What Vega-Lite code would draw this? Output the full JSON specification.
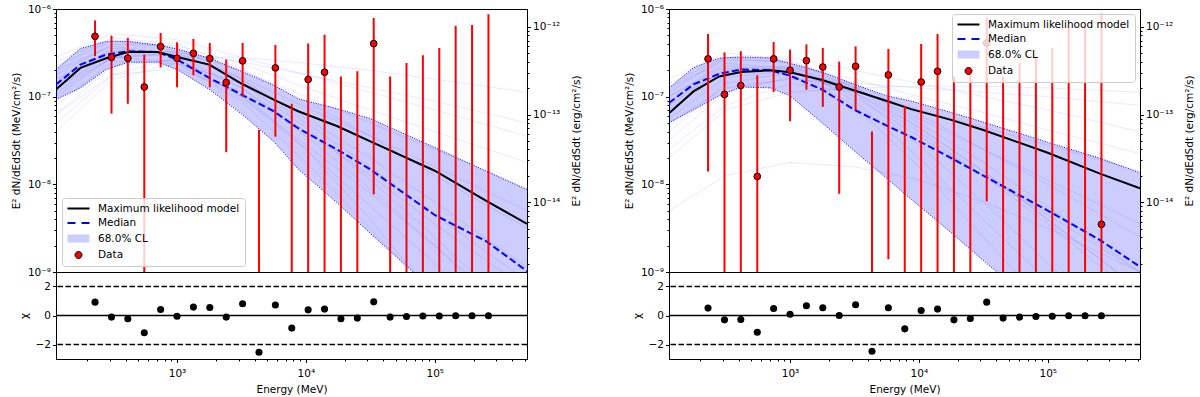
{
  "$schema": "https://vega.github.io/schema/vega-lite/v6.json",
  "padding": {"left": 10, "top": 3, "right": 2, "bottom": 2},
  "background": "white",
  "config": {
    "font": "DejaVu Sans",
    "view": {"stroke": "#000000", "strokeWidth": 1},
    "axis": {"labelFont": "DejaVu Sans", "titleFont": "DejaVu Sans", "labelFontSize": 10.5, "titleFontSize": 10.5, "titleFontWeight": "normal", "labelColor": "#000000", "titleColor": "#000000", "domainColor": "#000000", "tickColor": "#000000", "grid": false, "labelPadding": 2, "labelFlush": false, "labelOverlap": false}
  },
  "datasets": {
    "ptsL": [
      {"E": 231, "f": 4.88e-7, "lo": 2.9e-7, "hi": 7.4e-7, "chi": 0.92},
      {"E": 310, "f": 2.81e-7, "lo": 6.4e-8, "hi": 4.97e-7, "chi": -0.11},
      {"E": 415, "f": 2.74e-7, "lo": 8.3e-8, "hi": 4.68e-7, "chi": -0.23},
      {"E": 557, "f": 1.29e-7, "lo": 1e-11, "hi": 3.0e-7, "chi": -1.19},
      {"E": 746, "f": 3.73e-7, "lo": 2.16e-7, "hi": 5.33e-7, "chi": 0.41},
      {"E": 1000, "f": 2.74e-7, "lo": 1.28e-7, "hi": 4.17e-7, "chi": -0.05},
      {"E": 1340, "f": 3.12e-7, "lo": 1.75e-7, "hi": 4.55e-7, "chi": 0.58},
      {"E": 1796, "f": 2.72e-7, "lo": 1.28e-7, "hi": 4.1e-7, "chi": 0.55},
      {"E": 2408, "f": 1.45e-7, "lo": 2.33e-8, "hi": 2.65e-7, "chi": -0.11},
      {"E": 3227, "f": 2.56e-7, "lo": 1.01e-7, "hi": 4.1e-7, "chi": 0.81},
      {"E": 4325, "f": null, "lo": 1e-11, "hi": 4.2e-8, "chi": -2.53},
      {"E": 5797, "f": 2.13e-7, "lo": 3.5e-8, "hi": 3.89e-7, "chi": 0.72},
      {"E": 7769, "f": null, "lo": 1e-11, "hi": 8.3e-8, "chi": -0.87},
      {"E": 10414, "f": 1.57e-7, "lo": 1e-11, "hi": 4.03e-7, "chi": 0.39},
      {"E": 13958, "f": 1.9e-7, "lo": 1e-11, "hi": 5.1e-7, "chi": 0.44},
      {"E": 18707, "f": null, "lo": 1e-11, "hi": 1.7e-7, "chi": -0.23},
      {"E": 25073, "f": null, "lo": 1e-11, "hi": 1.95e-7, "chi": -0.18},
      {"E": 33606, "f": 4.03e-7, "lo": 7.7e-9, "hi": 7.9e-7, "chi": 0.94},
      {"E": 45042, "f": null, "lo": 1e-11, "hi": 1.7e-7, "chi": -0.11},
      {"E": 60370, "f": null, "lo": 1e-11, "hi": 2.42e-7, "chi": -0.07},
      {"E": 80913, "f": null, "lo": 1e-11, "hi": 2.96e-7, "chi": -0.04},
      {"E": 108448, "f": null, "lo": 1e-11, "hi": 3.6e-7, "chi": -0.04},
      {"E": 145353, "f": null, "lo": 1e-11, "hi": 6.45e-7, "chi": -0.02},
      {"E": 194817, "f": null, "lo": 1e-11, "hi": 6.58e-7, "chi": -0.02},
      {"E": 261113, "f": null, "lo": 1e-11, "hi": 8.7e-7, "chi": -0.02}
    ],
    "ptsR": [
      {"E": 231, "f": 2.7e-7, "lo": 1.4e-8, "hi": 5.2e-7, "chi": 0.51},
      {"E": 310, "f": 1.06e-7, "lo": 1e-11, "hi": 3.2e-7, "chi": -0.3},
      {"E": 415, "f": 1.34e-7, "lo": 1e-11, "hi": 3.3e-7, "chi": -0.28},
      {"E": 557, "f": 1.23e-8, "lo": 1e-11, "hi": 1.75e-7, "chi": -1.15},
      {"E": 746, "f": 2.7e-7, "lo": 1.13e-7, "hi": 4.2e-7, "chi": 0.48},
      {"E": 1000, "f": 2.0e-7, "lo": 5.25e-8, "hi": 3.44e-7, "chi": 0.09},
      {"E": 1340, "f": 2.58e-7, "lo": 1.2e-7, "hi": 3.95e-7, "chi": 0.67},
      {"E": 1796, "f": 2.18e-7, "lo": 7.66e-8, "hi": 3.6e-7, "chi": 0.53},
      {"E": 2408, "f": 1.29e-7, "lo": 7.8e-9, "hi": 2.51e-7, "chi": 0.0},
      {"E": 3227, "f": 2.22e-7, "lo": 6.95e-8, "hi": 3.75e-7, "chi": 0.74},
      {"E": 4325, "f": null, "lo": 1e-11, "hi": 4.0e-8, "chi": -2.46},
      {"E": 5797, "f": 1.77e-7, "lo": 1.4e-9, "hi": 3.5e-7, "chi": 0.53},
      {"E": 7769, "f": null, "lo": 1e-11, "hi": 7.8e-8, "chi": -0.92},
      {"E": 10414, "f": 1.47e-7, "lo": 1e-11, "hi": 4.0e-7, "chi": 0.35},
      {"E": 13958, "f": 1.95e-7, "lo": 1e-11, "hi": 5.2e-7, "chi": 0.44},
      {"E": 18707, "f": null, "lo": 1e-11, "hi": 1.7e-7, "chi": -0.3},
      {"E": 25073, "f": null, "lo": 1e-11, "hi": 1.8e-7, "chi": -0.21},
      {"E": 33606, "f": 4.1e-7, "lo": 6.4e-9, "hi": 7.9e-7, "chi": 0.92},
      {"E": 45042, "f": null, "lo": 1e-11, "hi": 1.7e-7, "chi": -0.18},
      {"E": 60370, "f": null, "lo": 1e-11, "hi": 2.42e-7, "chi": -0.11},
      {"E": 80913, "f": null, "lo": 1e-11, "hi": 2.84e-7, "chi": -0.07},
      {"E": 108448, "f": null, "lo": 1e-11, "hi": 3.6e-7, "chi": -0.05},
      {"E": 145353, "f": null, "lo": 1e-11, "hi": 6.3e-7, "chi": -0.02},
      {"E": 194817, "f": null, "lo": 1e-11, "hi": 6.3e-7, "chi": -0.02},
      {"E": 261113, "f": 3.5e-9, "lo": 1e-11, "hi": 8.8e-7, "chi": -0.02}
    ],
    "curvesL": [
      {"E": 115, "ml": 1.205e-7, "med": 1.374e-7, "hi": 2.037e-7, "lo": 9.27e-8},
      {"E": 178, "ml": 2.128e-7, "med": 2.323e-7, "hi": 3.548e-7, "lo": 1.259e-7},
      {"E": 282, "ml": 2.742e-7, "med": 3.02e-7, "hi": 4.266e-7, "lo": 2.042e-7},
      {"E": 417, "ml": 3.236e-7, "med": 3.289e-7, "hi": 4.276e-7, "lo": 2.472e-7},
      {"E": 708, "ml": 3.236e-7, "med": 3.236e-7, "hi": 3.89e-7, "lo": 2.483e-7},
      {"E": 1000, "ml": 2.838e-7, "med": 2.649e-7, "hi": 3.499e-7, "lo": 2.037e-7},
      {"E": 1778, "ml": 2.323e-7, "med": 1.637e-7, "hi": 2.761e-7, "lo": 1.213e-7},
      {"E": 3162, "ml": 1.413e-7, "med": 1.057e-7, "hi": 1.945e-7, "lo": 6.368e-8},
      {"E": 5623, "ml": 9.23e-8, "med": 6.823e-8, "hi": 1.349e-7, "lo": 3.09e-8},
      {"E": 8710, "ml": 6.823e-8, "med": 4.365e-8, "hi": 9.44e-8, "lo": 1.493e-8},
      {"E": 17783, "ml": 4.571e-8, "med": 2.455e-8, "hi": 7.244e-8, "lo": 6.026e-9},
      {"E": 31623, "ml": 3.09e-8, "med": 1.479e-8, "hi": 5.623e-8, "lo": 2.754e-9},
      {"E": 100000, "ml": 1.429e-8, "med": 4.467e-9, "hi": 2.63e-8, "lo": 6.026e-10},
      {"E": 251189, "ml": 6.457e-9, "med": 2.239e-9, "hi": 1.413e-8, "lo": 1.82e-10},
      {"E": 520000, "ml": 3.548e-9, "med": 1.023e-9, "hi": 8.71e-9, "lo": 6.918e-11}
    ],
    "curvesR": [
      {"E": 115, "ml": 6.457e-8, "med": 8.49e-8, "hi": 1.256e-7, "lo": 5.035e-8},
      {"E": 178, "ml": 1.148e-7, "med": 1.38e-7, "hi": 2.138e-7, "lo": 7.079e-8},
      {"E": 282, "ml": 1.698e-7, "med": 1.82e-7, "hi": 2.754e-7, "lo": 1.023e-7},
      {"E": 417, "ml": 1.914e-7, "med": 2.042e-7, "hi": 2.838e-7, "lo": 1.288e-7},
      {"E": 708, "ml": 1.995e-7, "med": 1.995e-7, "hi": 2.754e-7, "lo": 1.259e-7},
      {"E": 1000, "ml": 1.897e-7, "med": 1.738e-7, "hi": 2.399e-7, "lo": 1.023e-7},
      {"E": 1778, "ml": 1.549e-7, "med": 1.202e-7, "hi": 1.905e-7, "lo": 5.012e-8},
      {"E": 3162, "ml": 1.175e-7, "med": 7.079e-8, "hi": 1.38e-7, "lo": 2.399e-8},
      {"E": 5623, "ml": 8.913e-8, "med": 4.677e-8, "hi": 1.023e-7, "lo": 1.175e-8},
      {"E": 8710, "ml": 7.211e-8, "med": 3.467e-8, "hi": 8.913e-8, "lo": 6.761e-9},
      {"E": 17783, "ml": 5.433e-8, "med": 1.995e-8, "hi": 6.607e-8, "lo": 2.818e-9},
      {"E": 31623, "ml": 4.169e-8, "med": 1.259e-8, "hi": 5.129e-8, "lo": 1.349e-9},
      {"E": 100000, "ml": 2.291e-8, "med": 5.012e-9, "hi": 3.02e-8, "lo": 3.311e-10},
      {"E": 251189, "ml": 1.334e-8, "med": 2.344e-9, "hi": 1.995e-8, "lo": 1.047e-10},
      {"E": 520000, "ml": 9.016e-9, "med": 1.148e-9, "hi": 1.355e-8, "lo": 4.169e-11}
    ],
    "samplesL": [
      {"s": 1, "E": 115, "f": 2.818e-7}, {"s": 1, "E": 316, "f": 5.248e-7}, {"s": 1, "E": 1000, "f": 4.467e-7}, {"s": 1, "E": 3162, "f": 2.818e-7}, {"s": 1, "E": 10000, "f": 1.778e-7}, {"s": 1, "E": 31623, "f": 1.122e-7}, {"s": 1, "E": 100000, "f": 7.079e-8}, {"s": 1, "E": 520000, "f": 3.548e-8},
      {"s": 2, "E": 115, "f": 1.778e-7}, {"s": 2, "E": 316, "f": 3.981e-7}, {"s": 2, "E": 1000, "f": 3.802e-7}, {"s": 2, "E": 3162, "f": 2.399e-7}, {"s": 2, "E": 10000, "f": 1.259e-7}, {"s": 2, "E": 31623, "f": 7.079e-8}, {"s": 2, "E": 100000, "f": 3.981e-8}, {"s": 2, "E": 520000, "f": 1.778e-8},
      {"s": 3, "E": 115, "f": 1.413e-7}, {"s": 3, "E": 316, "f": 3.548e-7}, {"s": 3, "E": 1000, "f": 3.162e-7}, {"s": 3, "E": 3162, "f": 1.66e-7}, {"s": 3, "E": 10000, "f": 7.586e-8}, {"s": 3, "E": 31623, "f": 3.548e-8}, {"s": 3, "E": 100000, "f": 1.585e-8}, {"s": 3, "E": 520000, "f": 5.012e-9},
      {"s": 4, "E": 115, "f": 1e-7}, {"s": 4, "E": 316, "f": 2.818e-7}, {"s": 4, "E": 1000, "f": 3.02e-7}, {"s": 4, "E": 3162, "f": 1.585e-7}, {"s": 4, "E": 10000, "f": 5.623e-8}, {"s": 4, "E": 31623, "f": 1.995e-8}, {"s": 4, "E": 100000, "f": 6.31e-9}, {"s": 4, "E": 520000, "f": 1.122e-9},
      {"s": 5, "E": 115, "f": 1.122e-7}, {"s": 5, "E": 316, "f": 2.818e-7}, {"s": 5, "E": 1000, "f": 2.512e-7}, {"s": 5, "E": 3162, "f": 1e-7}, {"s": 5, "E": 10000, "f": 2.818e-8}, {"s": 5, "E": 31623, "f": 7.943e-9}, {"s": 5, "E": 100000, "f": 1.995e-9}, {"s": 5, "E": 520000, "f": 2.512e-10},
      {"s": 6, "E": 115, "f": 6.31e-8}, {"s": 6, "E": 316, "f": 2.239e-7}, {"s": 6, "E": 1000, "f": 2.63e-7}, {"s": 6, "E": 3162, "f": 1.259e-7}, {"s": 6, "E": 10000, "f": 3.548e-8}, {"s": 6, "E": 31623, "f": 8.913e-9}, {"s": 6, "E": 100000, "f": 1.995e-9}, {"s": 6, "E": 520000, "f": 1.995e-10},
      {"s": 7, "E": 115, "f": 1.995e-7}, {"s": 7, "E": 316, "f": 3.802e-7}, {"s": 7, "E": 1000, "f": 2.818e-7}, {"s": 7, "E": 3162, "f": 1e-7}, {"s": 7, "E": 10000, "f": 2.512e-8}, {"s": 7, "E": 31623, "f": 5.623e-9}, {"s": 7, "E": 100000, "f": 1.259e-9}, {"s": 7, "E": 520000, "f": 1.259e-10},
      {"s": 8, "E": 115, "f": 3.981e-8}, {"s": 8, "E": 316, "f": 1.585e-7}, {"s": 8, "E": 1000, "f": 2.399e-7}, {"s": 8, "E": 3162, "f": 1.413e-7}, {"s": 8, "E": 10000, "f": 4.467e-8}, {"s": 8, "E": 31623, "f": 1.122e-8}, {"s": 8, "E": 100000, "f": 2.512e-9}, {"s": 8, "E": 520000, "f": 2.512e-10},
      {"s": 9, "E": 115, "f": 1.585e-7}, {"s": 9, "E": 316, "f": 3.311e-7}, {"s": 9, "E": 1000, "f": 3.311e-7}, {"s": 9, "E": 3162, "f": 1.995e-7}, {"s": 9, "E": 10000, "f": 1e-7}, {"s": 9, "E": 31623, "f": 5.012e-8}, {"s": 9, "E": 100000, "f": 2.512e-8}, {"s": 9, "E": 520000, "f": 8.913e-9},
      {"s": 10, "E": 115, "f": 2.512e-7}, {"s": 10, "E": 316, "f": 4.677e-7}, {"s": 10, "E": 1000, "f": 3.981e-7}, {"s": 10, "E": 3162, "f": 2.089e-7}, {"s": 10, "E": 10000, "f": 8.913e-8}, {"s": 10, "E": 31623, "f": 3.548e-8}, {"s": 10, "E": 100000, "f": 1.259e-8}, {"s": 10, "E": 520000, "f": 3.162e-9},
      {"s": 11, "E": 115, "f": 7.943e-8}, {"s": 11, "E": 316, "f": 2.512e-7}, {"s": 11, "E": 1000, "f": 2.399e-7}, {"s": 11, "E": 3162, "f": 8.913e-8}, {"s": 11, "E": 10000, "f": 1.778e-8}, {"s": 11, "E": 31623, "f": 3.162e-9}, {"s": 11, "E": 100000, "f": 5.012e-10}, {"s": 11, "E": 520000, "f": 3.981e-11},
      {"s": 12, "E": 115, "f": 1.259e-7}, {"s": 12, "E": 316, "f": 3.162e-7}, {"s": 12, "E": 1000, "f": 2.951e-7}, {"s": 12, "E": 3162, "f": 1.259e-7}, {"s": 12, "E": 10000, "f": 3.981e-8}, {"s": 12, "E": 31623, "f": 1.259e-8}, {"s": 12, "E": 100000, "f": 3.548e-9}, {"s": 12, "E": 520000, "f": 6.31e-10},
      {"s": 13, "E": 115, "f": 5.012e-8}, {"s": 13, "E": 316, "f": 1.778e-7}, {"s": 13, "E": 1000, "f": 2.089e-7}, {"s": 13, "E": 3162, "f": 1.122e-7}, {"s": 13, "E": 10000, "f": 2.512e-8}, {"s": 13, "E": 31623, "f": 3.981e-9}, {"s": 13, "E": 100000, "f": 5.012e-10}, {"s": 13, "E": 520000, "f": 3.162e-11},
      {"s": 14, "E": 115, "f": 2.239e-7}, {"s": 14, "E": 316, "f": 4.365e-7}, {"s": 14, "E": 1000, "f": 3.631e-7}, {"s": 14, "E": 3162, "f": 1.585e-7}, {"s": 14, "E": 10000, "f": 5.012e-8}, {"s": 14, "E": 31623, "f": 1.585e-8}, {"s": 14, "E": 100000, "f": 4.467e-9}, {"s": 14, "E": 520000, "f": 7.943e-10},
      {"s": 15, "E": 115, "f": 6.31e-8}, {"s": 15, "E": 316, "f": 1.778e-7}, {"s": 15, "E": 1000, "f": 2.818e-7}, {"s": 15, "E": 3162, "f": 2.818e-7}, {"s": 15, "E": 10000, "f": 2.399e-7}, {"s": 15, "E": 31623, "f": 1.995e-7}, {"s": 15, "E": 100000, "f": 1.585e-7}, {"s": 15, "E": 520000, "f": 1.122e-7},
      {"s": 16, "E": 115, "f": 1.259e-7}, {"s": 16, "E": 316, "f": 2.818e-7}, {"s": 16, "E": 1000, "f": 3.162e-7}, {"s": 16, "E": 3162, "f": 2.512e-7}, {"s": 16, "E": 10000, "f": 1.778e-7}, {"s": 16, "E": 31623, "f": 1.259e-7}, {"s": 16, "E": 100000, "f": 8.913e-8}, {"s": 16, "E": 520000, "f": 5.012e-8}
    ],
    "samplesR": [
      {"s": 1, "E": 115, "f": 1.122e-7}, {"s": 1, "E": 316, "f": 2.818e-7}, {"s": 1, "E": 1000, "f": 2.818e-7}, {"s": 1, "E": 3162, "f": 1.995e-7}, {"s": 1, "E": 10000, "f": 1.413e-7}, {"s": 1, "E": 31623, "f": 1e-7}, {"s": 1, "E": 100000, "f": 7.079e-8}, {"s": 1, "E": 520000, "f": 3.981e-8},
      {"s": 2, "E": 115, "f": 7.943e-8}, {"s": 2, "E": 316, "f": 2.089e-7}, {"s": 2, "E": 1000, "f": 2.239e-7}, {"s": 2, "E": 3162, "f": 1.585e-7}, {"s": 2, "E": 10000, "f": 1e-7}, {"s": 2, "E": 31623, "f": 6.607e-8}, {"s": 2, "E": 100000, "f": 4.169e-8}, {"s": 2, "E": 520000, "f": 2.239e-8},
      {"s": 3, "E": 115, "f": 1e-7}, {"s": 3, "E": 316, "f": 2.399e-7}, {"s": 3, "E": 1000, "f": 2.089e-7}, {"s": 3, "E": 3162, "f": 1e-7}, {"s": 3, "E": 10000, "f": 3.548e-8}, {"s": 3, "E": 31623, "f": 1.259e-8}, {"s": 3, "E": 100000, "f": 4.467e-9}, {"s": 3, "E": 520000, "f": 1e-9},
      {"s": 4, "E": 115, "f": 5.623e-8}, {"s": 4, "E": 316, "f": 1.66e-7}, {"s": 4, "E": 1000, "f": 1.995e-7}, {"s": 4, "E": 3162, "f": 1.122e-7}, {"s": 4, "E": 10000, "f": 3.981e-8}, {"s": 4, "E": 31623, "f": 1.259e-8}, {"s": 4, "E": 100000, "f": 3.548e-9}, {"s": 4, "E": 520000, "f": 5.012e-10},
      {"s": 5, "E": 115, "f": 1.413e-7}, {"s": 5, "E": 316, "f": 2.818e-7}, {"s": 5, "E": 1000, "f": 2.399e-7}, {"s": 5, "E": 3162, "f": 8.913e-8}, {"s": 5, "E": 10000, "f": 1.995e-8}, {"s": 5, "E": 31623, "f": 3.981e-9}, {"s": 5, "E": 100000, "f": 7.943e-10}, {"s": 5, "E": 520000, "f": 7.943e-11},
      {"s": 6, "E": 115, "f": 3.981e-8}, {"s": 6, "E": 316, "f": 1.413e-7}, {"s": 6, "E": 1000, "f": 1.905e-7}, {"s": 6, "E": 3162, "f": 1.122e-7}, {"s": 6, "E": 10000, "f": 2.818e-8}, {"s": 6, "E": 31623, "f": 6.31e-9}, {"s": 6, "E": 100000, "f": 1.259e-9}, {"s": 6, "E": 520000, "f": 1.259e-10},
      {"s": 7, "E": 115, "f": 3.162e-8}, {"s": 7, "E": 316, "f": 1.122e-7}, {"s": 7, "E": 1000, "f": 1.66e-7}, {"s": 7, "E": 3162, "f": 1.202e-7}, {"s": 7, "E": 10000, "f": 7.079e-8}, {"s": 7, "E": 31623, "f": 4.467e-8}, {"s": 7, "E": 100000, "f": 2.818e-8}, {"s": 7, "E": 520000, "f": 1.413e-8},
      {"s": 8, "E": 115, "f": 1.259e-7}, {"s": 8, "E": 316, "f": 2.63e-7}, {"s": 8, "E": 1000, "f": 2.512e-7}, {"s": 8, "E": 3162, "f": 1.413e-7}, {"s": 8, "E": 10000, "f": 6.31e-8}, {"s": 8, "E": 31623, "f": 2.512e-8}, {"s": 8, "E": 100000, "f": 1e-8}, {"s": 8, "E": 520000, "f": 2.512e-9},
      {"s": 9, "E": 115, "f": 7.079e-8}, {"s": 9, "E": 316, "f": 1.905e-7}, {"s": 9, "E": 1000, "f": 2.188e-7}, {"s": 9, "E": 3162, "f": 1.318e-7}, {"s": 9, "E": 10000, "f": 5.012e-8}, {"s": 9, "E": 31623, "f": 1.778e-8}, {"s": 9, "E": 100000, "f": 5.623e-9}, {"s": 9, "E": 520000, "f": 1e-9},
      {"s": 10, "E": 115, "f": 1e-7}, {"s": 10, "E": 316, "f": 2.239e-7}, {"s": 10, "E": 1000, "f": 1.995e-7}, {"s": 10, "E": 3162, "f": 7.943e-8}, {"s": 10, "E": 10000, "f": 1.585e-8}, {"s": 10, "E": 31623, "f": 2.512e-9}, {"s": 10, "E": 100000, "f": 3.981e-10}, {"s": 10, "E": 520000, "f": 3.162e-11},
      {"s": 11, "E": 115, "f": 5.012e-8}, {"s": 11, "E": 316, "f": 1.259e-7}, {"s": 11, "E": 1000, "f": 1.585e-7}, {"s": 11, "E": 3162, "f": 1.413e-7}, {"s": 11, "E": 10000, "f": 1.259e-7}, {"s": 11, "E": 31623, "f": 1.122e-7}, {"s": 11, "E": 100000, "f": 1e-7}, {"s": 11, "E": 520000, "f": 7.943e-8},
      {"s": 12, "E": 115, "f": 8.913e-8}, {"s": 12, "E": 316, "f": 1.995e-7}, {"s": 12, "E": 1000, "f": 2.089e-7}, {"s": 12, "E": 3162, "f": 1.259e-7}, {"s": 12, "E": 10000, "f": 5.623e-8}, {"s": 12, "E": 31623, "f": 2.512e-8}, {"s": 12, "E": 100000, "f": 1.122e-8}, {"s": 12, "E": 520000, "f": 3.548e-9},
      {"s": 13, "E": 115, "f": 2.512e-8}, {"s": 13, "E": 316, "f": 7.943e-8}, {"s": 13, "E": 1000, "f": 1.413e-7}, {"s": 13, "E": 3162, "f": 1.122e-7}, {"s": 13, "E": 10000, "f": 4.467e-8}, {"s": 13, "E": 31623, "f": 1.413e-8}, {"s": 13, "E": 100000, "f": 3.981e-9}, {"s": 13, "E": 520000, "f": 6.31e-10},
      {"s": 14, "E": 115, "f": 1.585e-7}, {"s": 14, "E": 316, "f": 3.162e-7}, {"s": 14, "E": 1000, "f": 2.63e-7}, {"s": 14, "E": 3162, "f": 1.259e-7}, {"s": 14, "E": 10000, "f": 4.467e-8}, {"s": 14, "E": 31623, "f": 1.413e-8}, {"s": 14, "E": 100000, "f": 3.981e-9}, {"s": 14, "E": 520000, "f": 6.31e-10},
      {"s": 15, "E": 115, "f": 1.995e-8}, {"s": 15, "E": 316, "f": 7.079e-8}, {"s": 15, "E": 1000, "f": 1.122e-7}, {"s": 15, "E": 3162, "f": 1.259e-7}, {"s": 15, "E": 10000, "f": 1.318e-7}, {"s": 15, "E": 31623, "f": 1.318e-7}, {"s": 15, "E": 100000, "f": 1.259e-7}, {"s": 15, "E": 520000, "f": 1.122e-7},
      {"s": 16, "E": 115, "f": 5.012e-9}, {"s": 16, "E": 316, "f": 1.259e-8}, {"s": 16, "E": 1000, "f": 1.778e-8}, {"s": 16, "E": 3162, "f": 1.585e-8}, {"s": 16, "E": 10000, "f": 1.122e-8}, {"s": 16, "E": 31623, "f": 6.31e-9}, {"s": 16, "E": 100000, "f": 3.162e-9}, {"s": 16, "E": 520000, "f": 1e-9}
    ],
    "legendRows": [
      {"series": "Maximum likelihood model"},
      {"series": "Median"},
      {"series": "68.0% CL"},
      {"series": "Data"}
    ],
    "hlines": [
      {"v": 2, "k": "dash"},
      {"v": -2, "k": "dash"},
      {"v": 0, "k": "solid"}
    ],
    "ergAxis": [
      {"erg": 1.6022e-15},
      {"erg": 1.6022e-12}
    ]
  },
  "resolve": {"scale": {"fill": "independent", "stroke": "independent", "shape": "independent"}},
  "spacing": 41,
  "hconcat": [
    {
      "spacing": 0,
      "bounds": "flush",
      "resolve": {"scale": {"fill": "independent", "stroke": "independent", "shape": "independent"}},
      "vconcat": [
        {
          "width": 471,
          "height": 263,
          "resolve": {"scale": {"y": "independent"}},
          "layer": [
            {
              "encoding": {
                "x": {"field": "E", "type": "quantitative", "scale": {"type": "log", "domain": [115, 520000], "nice": false}, "axis": null}
              },
              "layer": [
                {
                  "data": {"name": "samplesL"},
                  "mark": {"type": "line", "color": "#0000ff", "strokeWidth": 0.7, "opacity": 0.13, "clip": true},
                  "encoding": {
                    "y": {"field": "f", "type": "quantitative", "title": "E² dN/dEdSdt (MeV/cm²/s)", "scale": {"type": "log", "domain": [1e-9, 1e-6], "nice": false},
                      "axis": {"values": [1e-9, 2e-9, 3e-9, 4e-9, 5e-9, 6e-9, 7e-9, 8e-9, 9e-9, 1e-8, 2e-8, 3e-8, 4e-8, 5e-8, 6e-8, 7e-8, 8e-8, 9e-8, 1e-7, 2e-7, 3e-7, 4e-7, 5e-7, 6e-7, 7e-7, 8e-7, 9e-7, 1e-6],
                        "labelExpr": "abs(log(datum.value)/LN10 - round(log(datum.value)/LN10)) < 0.001 ? ['10⁻⁹','10⁻⁸','10⁻⁷','10⁻⁶'][round(log(datum.value)/LN10)+9] : ''",
                        "tickSize": {"condition": {"test": "abs(log(datum.value)/LN10 - round(log(datum.value)/LN10)) < 0.001", "value": 3.5}, "value": 2},
                        "minExtent": 30, "maxExtent": 30, "titlePadding": 5}},
                    "detail": {"field": "s", "type": "nominal"}
                  }
                },
                {
                  "data": {"name": "curvesL"},
                  "mark": {"type": "area", "color": "#0000ff", "opacity": 0.2, "clip": true},
                  "encoding": {
                    "y": {"field": "lo", "type": "quantitative", "title": "E² dN/dEdSdt (MeV/cm²/s)", "scale": {"type": "log", "domain": [1e-9, 1e-6], "nice": false}},
                    "y2": {"field": "hi"}
                  }
                },
                {
                  "data": {"name": "curvesL"},
                  "mark": {"type": "line", "color": "#0000ff", "strokeWidth": 1, "strokeDash": [1, 1.5], "clip": true},
                  "encoding": {"y": {"field": "lo", "type": "quantitative", "title": "E² dN/dEdSdt (MeV/cm²/s)", "scale": {"type": "log", "domain": [1e-9, 1e-6], "nice": false}}}
                },
                {
                  "data": {"name": "curvesL"},
                  "mark": {"type": "line", "color": "#0000ff", "strokeWidth": 1, "strokeDash": [1, 1.5], "clip": true},
                  "encoding": {"y": {"field": "hi", "type": "quantitative", "title": "E² dN/dEdSdt (MeV/cm²/s)", "scale": {"type": "log", "domain": [1e-9, 1e-6], "nice": false}}}
                },
                {
                  "data": {"name": "curvesL"},
                  "mark": {"type": "line", "color": "#0000ff", "strokeWidth": 2, "strokeDash": [7, 3.2], "clip": true},
                  "encoding": {"y": {"field": "med", "type": "quantitative", "title": "E² dN/dEdSdt (MeV/cm²/s)", "scale": {"type": "log", "domain": [1e-9, 1e-6], "nice": false}}}
                },
                {
                  "data": {"name": "curvesL"},
                  "mark": {"type": "line", "color": "#000000", "strokeWidth": 2, "clip": true},
                  "encoding": {"y": {"field": "ml", "type": "quantitative", "title": "E² dN/dEdSdt (MeV/cm²/s)", "scale": {"type": "log", "domain": [1e-9, 1e-6], "nice": false}}}
                },
                {
                  "data": {"name": "ptsL"},
                  "mark": {"type": "rule", "color": "#ff0000", "strokeWidth": 2, "clip": true},
                  "encoding": {
                    "y": {"field": "lo", "type": "quantitative", "title": "E² dN/dEdSdt (MeV/cm²/s)", "scale": {"type": "log", "domain": [1e-9, 1e-6], "nice": false}},
                    "y2": {"field": "hi"}
                  }
                },
                {
                  "data": {"name": "ptsL"},
                  "mark": {"type": "point", "shape": "circle", "filled": true, "fill": "#ff0000", "stroke": "#000000", "strokeWidth": 1, "opacity": 1, "size": 45, "clip": true},
                  "encoding": {"y": {"field": "f", "type": "quantitative", "title": "E² dN/dEdSdt (MeV/cm²/s)", "scale": {"type": "log", "domain": [1e-9, 1e-6], "nice": false}}}
                },
                {
                  "data": {"name": "legendRows"},
                  "transform": [{"filter": "false"}],
                  "mark": {"type": "point", "filled": true, "opacity": 1},
                  "encoding": {
                    "fill": {"field": "series", "type": "nominal",
                      "scale": {"domain": ["Maximum likelihood model", "Median", "68.0% CL", "Data"], "range": ["#000000", "#0000ff", "#ccccff", "#ff0000"]},
                      "legend": {"title": null, "orient": "bottom-left", "offset": 6, "padding": 5, "fillColor": "rgba(255,255,255,0.8)", "strokeColor": "#cccccc", "cornerRadius": 3, "labelFontSize": 10.5, "labelFont": "DejaVu Sans", "labelColor": "#000000", "symbolSize": 100, "symbolStrokeWidth": 1, "symbolOpacity": 1, "labelOffset": 20, "rowPadding": 3.5, "labelLimit": 300}},
                    "stroke": {"field": "series", "type": "nominal",
                      "scale": {"domain": ["Maximum likelihood model", "Median", "68.0% CL", "Data"], "range": ["transparent", "transparent", "transparent", "#000000"]}},
                    "shape": {"field": "series", "type": "nominal",
                      "scale": {"domain": ["Maximum likelihood model", "Median", "68.0% CL", "Data"], "range": ["M-1,-0.2H3.4V0.2H-1Z", "M-1,-0.2H0.6V0.2H-1Z M1.8,-0.2H3.4V0.2H1.8Z", "M-1,-0.8H3.4V0.8H-1Z", "M1.9,0A0.7,0.7 0 1,1 0.5,0A0.7,0.7 0 1,1 1.9,0Z"]}}
                  }
                }
              ]
            },
            {
              "data": {"name": "ergAxis"},
              "mark": {"type": "point", "opacity": 0},
              "encoding": {
                "y": {"field": "erg", "type": "quantitative", "title": "E² dN/dEdSdt (erg/cm²/s)", "scale": {"type": "log", "domain": [1.6022e-15, 1.6022e-12], "nice": false},
                  "axis": {"orient": "right", "titleAngle": 270, "titleBaseline": "top",
                    "values": [2e-15, 3e-15, 4e-15, 5e-15, 6e-15, 7e-15, 8e-15, 9e-15, 1e-14, 2e-14, 3e-14, 4e-14, 5e-14, 6e-14, 7e-14, 8e-14, 9e-14, 1e-13, 2e-13, 3e-13, 4e-13, 5e-13, 6e-13, 7e-13, 8e-13, 9e-13, 1e-12],
                    "labelExpr": "abs(log(datum.value)/LN10 - round(log(datum.value)/LN10)) < 0.001 ? ['10⁻¹⁴','10⁻¹³','10⁻¹²'][round(log(datum.value)/LN10)+14] : ''",
                    "tickSize": {"condition": {"test": "abs(log(datum.value)/LN10 - round(log(datum.value)/LN10)) < 0.001", "value": 3.5}, "value": 2},
                    "minExtent": 40, "maxExtent": 40, "titlePadding": 4}}
              }
            }
          ]
        },
        {
          "width": 471,
          "height": 87,
          "encoding": {
            "x": {"field": "E", "type": "quantitative", "title": "Energy (MeV)", "scale": {"type": "log", "domain": [115, 520000], "nice": false},
              "axis": {"values": [200, 300, 400, 500, 600, 700, 800, 900, 1000, 2000, 3000, 4000, 5000, 6000, 7000, 8000, 9000, 10000, 20000, 30000, 40000, 50000, 60000, 70000, 80000, 90000, 100000, 200000, 300000, 400000, 500000],
                "labelExpr": "abs(log(datum.value)/LN10 - round(log(datum.value)/LN10)) < 0.001 ? ['10³','10⁴','10⁵'][round(log(datum.value)/LN10)-3] : ''",
                "tickSize": {"condition": {"test": "abs(log(datum.value)/LN10 - round(log(datum.value)/LN10)) < 0.001", "value": 3.5}, "value": 2},
                "labelPadding": 6, "titlePadding": 5}}
          },
          "layer": [
            {
              "data": {"name": "hlines"},
              "transform": [{"filter": "datum.k == 'dash'"}],
              "mark": {"type": "rule", "color": "#000000", "strokeWidth": 1.3, "strokeDash": [5.5, 2.5]},
              "encoding": {"x": null, "y": {"field": "v", "type": "quantitative", "title": "χ", "scale": {"domain": [-3, 3], "nice": false, "zero": false},
                "axis": {"values": [-2, 0, 2], "labelExpr": "datum.value < 0 ? '−' + abs(datum.value) : '' + datum.value", "tickSize": 3.5, "minExtent": 26, "maxExtent": 26, "titlePadding": 1}}}
            },
            {
              "data": {"name": "hlines"},
              "transform": [{"filter": "datum.k == 'solid'"}],
              "mark": {"type": "rule", "color": "#000000", "strokeWidth": 1.5},
              "encoding": {"x": null, "y": {"field": "v", "type": "quantitative", "title": "χ", "scale": {"domain": [-3, 3], "nice": false, "zero": false}}}
            },
            {
              "data": {"name": "ptsL"},
              "mark": {"type": "point", "shape": "circle", "filled": true, "color": "#000000", "opacity": 1, "size": 50},
              "encoding": {"y": {"field": "chi", "type": "quantitative", "title": "χ", "scale": {"domain": [-3, 3], "nice": false, "zero": false}}}
            }
          ]
        }
      ]
    },
    {
      "spacing": 0,
      "bounds": "flush",
      "resolve": {"scale": {"fill": "independent", "stroke": "independent", "shape": "independent"}},
      "vconcat": [
        {
          "width": 471,
          "height": 263,
          "resolve": {"scale": {"y": "independent"}},
          "layer": [
            {
              "encoding": {
                "x": {"field": "E", "type": "quantitative", "scale": {"type": "log", "domain": [115, 520000], "nice": false}, "axis": null}
              },
              "layer": [
                {
                  "data": {"name": "samplesR"},
                  "mark": {"type": "line", "color": "#0000ff", "strokeWidth": 0.7, "opacity": 0.13, "clip": true},
                  "encoding": {
                    "y": {"field": "f", "type": "quantitative", "title": "E² dN/dEdSdt (MeV/cm²/s)", "scale": {"type": "log", "domain": [1e-9, 1e-6], "nice": false},
                      "axis": {"values": [1e-9, 2e-9, 3e-9, 4e-9, 5e-9, 6e-9, 7e-9, 8e-9, 9e-9, 1e-8, 2e-8, 3e-8, 4e-8, 5e-8, 6e-8, 7e-8, 8e-8, 9e-8, 1e-7, 2e-7, 3e-7, 4e-7, 5e-7, 6e-7, 7e-7, 8e-7, 9e-7, 1e-6],
                        "labelExpr": "abs(log(datum.value)/LN10 - round(log(datum.value)/LN10)) < 0.001 ? ['10⁻⁹','10⁻⁸','10⁻⁷','10⁻⁶'][round(log(datum.value)/LN10)+9] : ''",
                        "tickSize": {"condition": {"test": "abs(log(datum.value)/LN10 - round(log(datum.value)/LN10)) < 0.001", "value": 3.5}, "value": 2},
                        "minExtent": 30, "maxExtent": 30, "titlePadding": 5}},
                    "detail": {"field": "s", "type": "nominal"}
                  }
                },
                {
                  "data": {"name": "curvesR"},
                  "mark": {"type": "area", "color": "#0000ff", "opacity": 0.2, "clip": true},
                  "encoding": {
                    "y": {"field": "lo", "type": "quantitative", "title": "E² dN/dEdSdt (MeV/cm²/s)", "scale": {"type": "log", "domain": [1e-9, 1e-6], "nice": false}},
                    "y2": {"field": "hi"}
                  }
                },
                {
                  "data": {"name": "curvesR"},
                  "mark": {"type": "line", "color": "#0000ff", "strokeWidth": 1, "strokeDash": [1, 1.5], "clip": true},
                  "encoding": {"y": {"field": "lo", "type": "quantitative", "title": "E² dN/dEdSdt (MeV/cm²/s)", "scale": {"type": "log", "domain": [1e-9, 1e-6], "nice": false}}}
                },
                {
                  "data": {"name": "curvesR"},
                  "mark": {"type": "line", "color": "#0000ff", "strokeWidth": 1, "strokeDash": [1, 1.5], "clip": true},
                  "encoding": {"y": {"field": "hi", "type": "quantitative", "title": "E² dN/dEdSdt (MeV/cm²/s)", "scale": {"type": "log", "domain": [1e-9, 1e-6], "nice": false}}}
                },
                {
                  "data": {"name": "curvesR"},
                  "mark": {"type": "line", "color": "#0000ff", "strokeWidth": 2, "strokeDash": [7, 3.2], "clip": true},
                  "encoding": {"y": {"field": "med", "type": "quantitative", "title": "E² dN/dEdSdt (MeV/cm²/s)", "scale": {"type": "log", "domain": [1e-9, 1e-6], "nice": false}}}
                },
                {
                  "data": {"name": "curvesR"},
                  "mark": {"type": "line", "color": "#000000", "strokeWidth": 2, "clip": true},
                  "encoding": {"y": {"field": "ml", "type": "quantitative", "title": "E² dN/dEdSdt (MeV/cm²/s)", "scale": {"type": "log", "domain": [1e-9, 1e-6], "nice": false}}}
                },
                {
                  "data": {"name": "ptsR"},
                  "mark": {"type": "rule", "color": "#ff0000", "strokeWidth": 2, "clip": true},
                  "encoding": {
                    "y": {"field": "lo", "type": "quantitative", "title": "E² dN/dEdSdt (MeV/cm²/s)", "scale": {"type": "log", "domain": [1e-9, 1e-6], "nice": false}},
                    "y2": {"field": "hi"}
                  }
                },
                {
                  "data": {"name": "ptsR"},
                  "mark": {"type": "point", "shape": "circle", "filled": true, "fill": "#ff0000", "stroke": "#000000", "strokeWidth": 1, "opacity": 1, "size": 45, "clip": true},
                  "encoding": {"y": {"field": "f", "type": "quantitative", "title": "E² dN/dEdSdt (MeV/cm²/s)", "scale": {"type": "log", "domain": [1e-9, 1e-6], "nice": false}}}
                },
                {
                  "data": {"name": "legendRows"},
                  "transform": [{"filter": "false"}],
                  "mark": {"type": "point", "filled": true, "opacity": 1},
                  "encoding": {
                    "fill": {"field": "series", "type": "nominal",
                      "scale": {"domain": ["Maximum likelihood model", "Median", "68.0% CL", "Data"], "range": ["#000000", "#0000ff", "#ccccff", "#ff0000"]},
                      "legend": {"title": null, "orient": "top-right", "offset": 5, "padding": 5, "fillColor": "rgba(255,255,255,0.8)", "strokeColor": "#cccccc", "cornerRadius": 3, "labelFontSize": 10.5, "labelFont": "DejaVu Sans", "labelColor": "#000000", "symbolSize": 100, "symbolStrokeWidth": 1, "symbolOpacity": 1, "labelOffset": 20, "rowPadding": 3.5, "labelLimit": 300}},
                    "stroke": {"field": "series", "type": "nominal",
                      "scale": {"domain": ["Maximum likelihood model", "Median", "68.0% CL", "Data"], "range": ["transparent", "transparent", "transparent", "#000000"]}},
                    "shape": {"field": "series", "type": "nominal",
                      "scale": {"domain": ["Maximum likelihood model", "Median", "68.0% CL", "Data"], "range": ["M-1,-0.2H3.4V0.2H-1Z", "M-1,-0.2H0.6V0.2H-1Z M1.8,-0.2H3.4V0.2H1.8Z", "M-1,-0.8H3.4V0.8H-1Z", "M1.9,0A0.7,0.7 0 1,1 0.5,0A0.7,0.7 0 1,1 1.9,0Z"]}}
                  }
                }
              ]
            },
            {
              "data": {"name": "ergAxis"},
              "mark": {"type": "point", "opacity": 0},
              "encoding": {
                "y": {"field": "erg", "type": "quantitative", "title": "E² dN/dEdSdt (erg/cm²/s)", "scale": {"type": "log", "domain": [1.6022e-15, 1.6022e-12], "nice": false},
                  "axis": {"orient": "right", "titleAngle": 270, "titleBaseline": "top",
                    "values": [2e-15, 3e-15, 4e-15, 5e-15, 6e-15, 7e-15, 8e-15, 9e-15, 1e-14, 2e-14, 3e-14, 4e-14, 5e-14, 6e-14, 7e-14, 8e-14, 9e-14, 1e-13, 2e-13, 3e-13, 4e-13, 5e-13, 6e-13, 7e-13, 8e-13, 9e-13, 1e-12],
                    "labelExpr": "abs(log(datum.value)/LN10 - round(log(datum.value)/LN10)) < 0.001 ? ['10⁻¹⁴','10⁻¹³','10⁻¹²'][round(log(datum.value)/LN10)+14] : ''",
                    "tickSize": {"condition": {"test": "abs(log(datum.value)/LN10 - round(log(datum.value)/LN10)) < 0.001", "value": 3.5}, "value": 2},
                    "minExtent": 40, "maxExtent": 40, "titlePadding": 4}}
              }
            }
          ]
        },
        {
          "width": 471,
          "height": 87,
          "encoding": {
            "x": {"field": "E", "type": "quantitative", "title": "Energy (MeV)", "scale": {"type": "log", "domain": [115, 520000], "nice": false},
              "axis": {"values": [200, 300, 400, 500, 600, 700, 800, 900, 1000, 2000, 3000, 4000, 5000, 6000, 7000, 8000, 9000, 10000, 20000, 30000, 40000, 50000, 60000, 70000, 80000, 90000, 100000, 200000, 300000, 400000, 500000],
                "labelExpr": "abs(log(datum.value)/LN10 - round(log(datum.value)/LN10)) < 0.001 ? ['10³','10⁴','10⁵'][round(log(datum.value)/LN10)-3] : ''",
                "tickSize": {"condition": {"test": "abs(log(datum.value)/LN10 - round(log(datum.value)/LN10)) < 0.001", "value": 3.5}, "value": 2},
                "labelPadding": 6, "titlePadding": 5}}
          },
          "layer": [
            {
              "data": {"name": "hlines"},
              "transform": [{"filter": "datum.k == 'dash'"}],
              "mark": {"type": "rule", "color": "#000000", "strokeWidth": 1.3, "strokeDash": [5.5, 2.5]},
              "encoding": {"x": null, "y": {"field": "v", "type": "quantitative", "title": "χ", "scale": {"domain": [-3, 3], "nice": false, "zero": false},
                "axis": {"values": [-2, 0, 2], "labelExpr": "datum.value < 0 ? '−' + abs(datum.value) : '' + datum.value", "tickSize": 3.5, "minExtent": 26, "maxExtent": 26, "titlePadding": 1}}}
            },
            {
              "data": {"name": "hlines"},
              "transform": [{"filter": "datum.k == 'solid'"}],
              "mark": {"type": "rule", "color": "#000000", "strokeWidth": 1.5},
              "encoding": {"x": null, "y": {"field": "v", "type": "quantitative", "title": "χ", "scale": {"domain": [-3, 3], "nice": false, "zero": false}}}
            },
            {
              "data": {"name": "ptsR"},
              "mark": {"type": "point", "shape": "circle", "filled": true, "color": "#000000", "opacity": 1, "size": 50},
              "encoding": {"y": {"field": "chi", "type": "quantitative", "title": "χ", "scale": {"domain": [-3, 3], "nice": false, "zero": false}}}
            }
          ]
        }
      ]
    }
  ]
}
